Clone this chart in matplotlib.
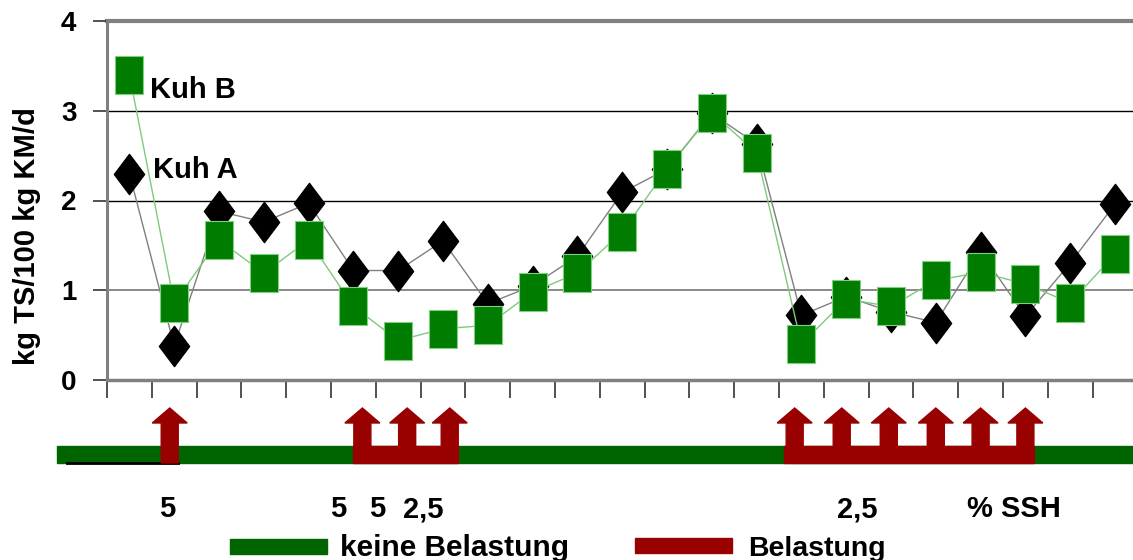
import numpy as np
import matplotlib.pyplot as plt
from matplotlib.path import Path
from matplotlib.patches import Polygon, Rectangle

plt.rcParams["font.family"] = ["Liberation Sans", "DejaVu Sans"]
plt.rcParams["font.weight"] = "bold"

# Trockensubstanzaufnahme je Tag (kg TS/100 kg KM/d)
tage = np.arange(23)
kuh_a = [2.30, 0.38, 1.88, 1.76, 1.97, 1.22, 1.22, 1.55, 0.85, 1.05, 1.38, 2.09,
         2.35, 2.97, 2.63, 0.72, 0.93, 0.76, 0.64, 1.43, 0.71, 1.30, 1.96]
kuh_b = [3.40, 0.86, 1.56, 1.19, 1.56, 0.82, 0.44, 0.57, 0.61, 0.98, 1.19, 1.65,
         2.35, 2.98, 2.53, 0.40, 0.90, 0.82, 1.11, 1.20, 1.07, 0.86, 1.40]
y_ticks = [0, 1, 2, 3, 4]

# Belastungstage (Pfeile) und Beschriftung der Dosis
pfeil_x = [0.9, 5.2, 6.2, 7.15, 14.85, 15.9, 16.95, 18.0, 19.0, 20.0]
dosis_text = ["5", "5", "5", "2,5", "2,5", "% SSH"]
dosis_x = [0.84, 4.65, 5.52, 6.55, 16.24, 19.74]

W, H = 1133, 560
fig = plt.figure(figsize=(W / 100, H / 100), dpi=100)

def px_rect(x0, y0, x1, y1):
    return [x0 / W, 1 - y1 / H, (x1 - x0) / W, (y1 - y0) / H]

ax = fig.add_axes(px_rect(107, 21, 107 + 23 * 44.8, 380))
ax.set_xlim(-0.5, 22.5)
ax.set_ylim(0, 4)

for y in [1, 2, 3]:
    ax.axhline(y, color="#808080" if y == 1 else "black", lw=1.3 if y == 1 else 1.0, zorder=1)
ax.axhline(4, color="#808080", lw=3, zorder=1, clip_on=False)

for s in ["right", "top"]:
    ax.spines[s].set_visible(False)
ax.spines["left"].set_color("#808080")
ax.spines["left"].set_linewidth(2.2)
ax.spines["bottom"].set_color("#808080")
ax.spines["bottom"].set_linewidth(2.5)

ax.set_yticks(y_ticks)
ax.set_yticklabels([str(v) for v in y_ticks], fontsize=20, fontweight="bold")
ax.set_xticks(np.arange(-0.5, 23, 1.0))
ax.set_xticklabels([])
ax.tick_params(axis="y", direction="out", length=10, width=1.2, color="#333333", pad=12)
ax.tick_params(axis="x", direction="out", length=13, width=1.2, color="#333333")

raute = Path([(0, 1), (0.75, 0), (0, -1), (-0.75, 0), (0, 1)],
             [Path.MOVETO, Path.LINETO, Path.LINETO, Path.LINETO, Path.CLOSEPOLY])
rechteck = Path([(-0.76, -1), (0.76, -1), (0.76, 1), (-0.76, 1), (-0.76, -1)],
                [Path.MOVETO, Path.LINETO, Path.LINETO, Path.LINETO, Path.CLOSEPOLY])

ax.plot(tage, kuh_a, color="#808080", lw=1.0, marker=raute, ms=29,
        mfc="black", mec="black", zorder=3, clip_on=False)
ax.plot(tage, kuh_b, color="#7fc97f", lw=1.0, marker=rechteck, ms=27,
        mfc="#007c00", mec="#7fd07f", mew=0.8, zorder=4, clip_on=False)

ax.text(0.46, 3.23, "Kuh B", fontsize=21, fontweight="bold", va="center", ha="left")
ax.text(0.52, 2.34, "Kuh A", fontsize=21, fontweight="bold", va="center", ha="left")

fig.text(27 / W, 1 - 236 / H, "kg TS/100 kg KM/d", rotation=90, fontsize=21,
         fontweight="bold", ha="center", va="center")

# Belastungsschema unter der Achse
ax2 = fig.add_axes(px_rect(107, 400, 107 + 23 * 44.8, 470))
ax2.set_xlim(-0.5, 22.5)
ax2.set_ylim(470, 400)
ax2.axis("off")

gruen = "#006400"
rot = "#990000"
ax2.add_patch(Rectangle((-1.62, 446), 26, 17, color=gruen, clip_on=False, zorder=1))
ax2.plot([-1.39, 1.08], [462.5, 462.5], color="black", lw=2, clip_on=False, zorder=2)
ax2.add_patch(Rectangle((4.98, 446), 2.35, 17, color=rot, clip_on=False, zorder=3))
ax2.add_patch(Rectangle((14.61, 446), 5.58, 17, color=rot, clip_on=False, zorder=3))

sw, hw = 0.19, 0.39
for x in pfeil_x:
    verts = [(x - sw, 463), (x - sw, 423), (x - hw, 423), (x, 408),
             (x + hw, 423), (x + sw, 423), (x + sw, 463)]
    ax2.add_patch(Polygon(verts, closed=True, color=rot, clip_on=False, zorder=4))

for t, x in zip(dosis_text, dosis_x):
    ax2.text(x, 509, t, fontsize=21, fontweight="bold", ha="center", va="center",
             clip_on=False)

# Legende
fig.patches.append(Rectangle((230 / W, 1 - 554 / H), 97 / W, 15 / H,
                             transform=fig.transFigure, color=gruen))
fig.text(340 / W, 1 - 556 / H, "keine Belastung", fontsize=21.5, fontweight="bold",
         va="baseline", ha="left")
fig.patches.append(Rectangle((635 / W, 1 - 553 / H), 97 / W, 15 / H,
                             transform=fig.transFigure, color=rot))
fig.text(748 / W, 1 - 556 / H, "Belastung", fontsize=20.5, fontweight="bold",
         va="baseline", ha="left")

fig.savefig("out.png", dpi=100)
